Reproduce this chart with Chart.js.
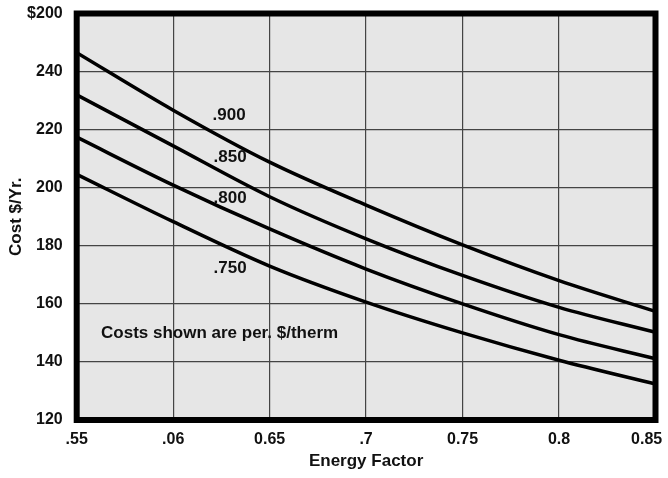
<!DOCTYPE html>
<html>
<head>
<meta charset="utf-8">
<script src="https://cdn.jsdelivr.net/npm/chart.js@4/dist/chart.umd.min.js"></script>
<style>
  body { margin: 0; background: #fff; }
  canvas { display: block; }
</style>
</head>
<body>
<canvas id="costChart" width="668" height="478"></canvas>
<script>
// Energy factor values (x) and tick labels as printed on the chart
const energyFactor = [0.55, 0.60, 0.65, 0.70, 0.75, 0.80, 0.85];
// last label padded so it sits inside the picture like the original
const xTickLabels = ['.55', '.06', '0.65', '.7', '0.75', '0.8', '0.85\u00a0\u00a0\u00a0\u00a0'];

const yTicks = [120, 140, 160, 180, 200, 220, 240, 260];
const yTickLabels = ['120', '140', '160', '180', '200', '220', '240', '$200'];

// Cost $/Yr., one array per gas price
const cost900 = [246.5, 226.7, 208.8, 194.0, 180.3, 168.0, 157.4];
const cost850 = [232.0, 214.4, 196.9, 182.4, 169.8, 158.8, 150.2];
const cost800 = [217.4, 200.9, 185.8, 172.0, 160.0, 149.4, 141.1];
const cost750 = [204.6, 188.3, 173.0, 160.6, 150.0, 140.6, 132.4];

// Text placed on the plot (data coordinates)
const notes = [
    { text: '.900', x: 0.629, y: 225, align: 'center' },
    { text: '.850', x: 0.6295, y: 210.5, align: 'center' },
    { text: '.800', x: 0.6295, y: 196.5, align: 'center' },
    { text: '.750', x: 0.6295, y: 172.3, align: 'center' },
    { text: 'Costs shown are per. $/therm', x: 0.5626, y: 150, align: 'left' }
];

const FONT = '"Liberation Sans", Arial, sans-serif';

function series(values) {
    return {
        data: energyFactor.map((x, i) => ({ x: x, y: values[i] })),
        borderColor: '#000',
        borderWidth: 3.5,
        pointRadius: 0,
        fill: false,
        cubicInterpolationMode: 'monotone'
    };
}

// plot background, frame and notes
const framePlugin = {
    id: 'frame',
    beforeDraw(chart) {
        const a = chart.chartArea;
        const ctx = chart.ctx;
        ctx.save();
        ctx.fillStyle = '#e6e6e6';
        ctx.fillRect(a.left, a.top, a.right - a.left, a.bottom - a.top);
        ctx.restore();
    },
    afterDraw(chart) {
        const a = chart.chartArea;
        const ctx = chart.ctx;
        ctx.save();
        ctx.strokeStyle = '#000';
        ctx.lineWidth = 6;
        ctx.strokeRect(a.left, a.top, a.right - a.left, a.bottom - a.top);

        ctx.fillStyle = '#111';
        ctx.font = 'bold 17px ' + FONT;
        ctx.textBaseline = 'middle';
        notes.forEach(n => {
            ctx.textAlign = n.align;
            ctx.fillText(n.text, chart.scales.x.getPixelForValue(n.x), chart.scales.y.getPixelForValue(n.y));
        });
        ctx.restore();
    }
};

const ctx = document.getElementById('costChart').getContext('2d');
const chart = new Chart(ctx, {
    type: 'line',
    data: {
        datasets: [series(cost900), series(cost850), series(cost800), series(cost750)]
    },
    options: {
        responsive: false,
        animation: false,
        layout: { padding: { top: 13.5, right: 12.5, left: 0, bottom: 0 } },
        plugins: {
            legend: { display: false },
            tooltip: { enabled: false }
        },
        scales: {
            x: {
                type: 'linear',
                min: 0.55,
                max: 0.85,
                afterBuildTicks: scale => { scale.ticks = energyFactor.map(v => ({ value: v })); },
                afterFit: scale => {
                    scale.height = 58;
                    scale.paddingLeft = 0;
                    scale.paddingRight = 0;
                },
                grid: { color: '#444', lineWidth: 1.2, drawTicks: false },
                border: { display: false },
                ticks: {
                    padding: 10,
                    maxRotation: 0,
                    color: '#111',
                    font: { family: FONT, size: 16, weight: 'bold' },
                    callback: (v, i) => xTickLabels[i]
                },
                title: {
                    display: true,
                    text: 'Energy Factor',
                    color: '#111',
                    font: { family: FONT, size: 17, weight: 'bold' },
                    padding: { top: 0, bottom: 6 }
                }
            },
            y: {
                min: 120,
                max: 260,
                afterBuildTicks: scale => { scale.ticks = yTicks.map(v => ({ value: v })); },
                afterFit: scale => {
                    scale.width = 76.7;
                    scale.paddingTop = 0;
                    scale.paddingBottom = 0;
                },
                grid: { color: '#444', lineWidth: 1.2, drawTicks: false },
                border: { display: false },
                ticks: {
                    padding: 14,
                    color: '#111',
                    font: { family: FONT, size: 16, weight: 'bold' },
                    callback: (v, i) => yTickLabels[i]
                },
                title: {
                    display: true,
                    text: 'Cost $/Yr.',
                    color: '#111',
                    font: { family: FONT, size: 17, weight: 'bold' },
                    padding: { top: 6, bottom: 0 }
                }
            }
        }
    },
    plugins: [framePlugin]
});
</script>
</body>
</html>
